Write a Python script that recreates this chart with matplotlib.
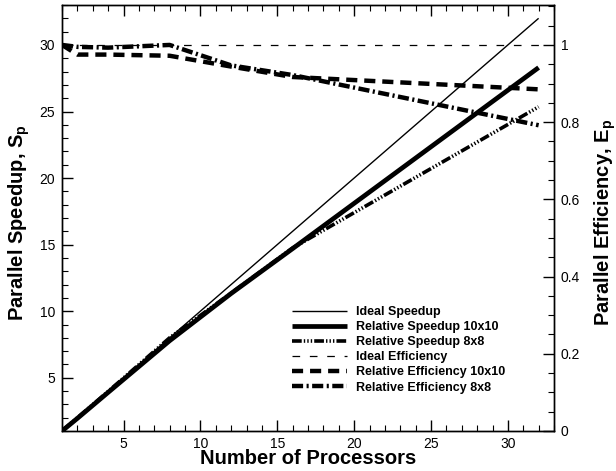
import matplotlib
matplotlib.use("Agg")
import matplotlib.pyplot as plt
from matplotlib.ticker import MultipleLocator, FixedLocator

plt.rcParams['font.family'] = ['Liberation Sans', 'DejaVu Sans']
plt.rcParams['mathtext.fontset'] = 'custom'
plt.rcParams['mathtext.rm'] = 'Liberation Sans'
plt.rcParams['mathtext.bf'] = 'Liberation Sans:bold'
plt.rcParams['lines.scale_dashes'] = False

# ---- data ----
processors = [1, 2, 4, 8, 12, 16, 32]
ideal_speedup = [1, 2, 4, 8, 12, 16, 32]
speedup_10x10 = [1, 1.95, 3.9, 7.78, 11.33, 14.7, 28.3]
speedup_8x8 = [1, 1.99, 3.97, 8.0, 11.36, 14.75, 25.35]
ideal_eff = [1, 1, 1, 1, 1, 1, 1]
eff_10x10 = [1, 0.975, 0.975, 0.972, 0.944, 0.917, 0.885]
eff_8x8 = [1, 0.995, 0.993, 1.0, 0.947, 0.922, 0.792]

labels = ["Ideal Speedup", "Relative Speedup 10x10", "Relative Speedup 8x8",
          "Ideal Efficiency", "Relative Efficiency 10x10", "Relative Efficiency 8x8"]

fig = plt.figure(figsize=(6.16, 4.71), dpi=100)
ax = fig.add_axes([62/616, 1 - 431/471, (554-62)/616, (431-5)/471])
ax2 = ax.twinx()

S_MIN, S_MAX = 1, 33
ax.set_xlim(1, 33)
ax.set_ylim(S_MIN, S_MAX)
ax2.set_ylim(0, (S_MAX - 1) / 29)

h1, = ax.plot(processors, ideal_speedup, color='black', lw=1.0, solid_capstyle='butt')
h2, = ax.plot(processors, speedup_10x10, color='black', lw=3.4, solid_capstyle='butt')
h3, = ax.plot(processors, speedup_8x8, color='black', lw=2.6,
              dashes=(7, 1.5, 1, 1.5, 1, 1.5, 1, 1.5), dash_capstyle='butt')
h4, = ax2.plot(processors, ideal_eff, color='black', lw=0.9, dashes=(5.5, 7))
h5, = ax2.plot(processors, eff_10x10, color='black', lw=3.2, dashes=(8, 5), dash_capstyle='butt')
h6, = ax2.plot(processors, eff_8x8, color='black', lw=3.2,
               dashes=(8, 2.5, 1.5, 2.5), dash_capstyle='butt')

ax.xaxis.set_major_locator(FixedLocator([5, 10, 15, 20, 25, 30]))
ax.xaxis.set_minor_locator(MultipleLocator(1))
ax.yaxis.set_major_locator(FixedLocator([5, 10, 15, 20, 25, 30]))
ax.yaxis.set_minor_locator(MultipleLocator(1))
ax2.yaxis.set_major_locator(FixedLocator([0, 0.2, 0.4, 0.6, 0.8, 1.0]))
ax2.yaxis.set_minor_locator(MultipleLocator(0.05))
ax2.set_yticklabels(["0", "0.2", "0.4", "0.6", "0.8", "1"])

ax.tick_params(axis='x', which='both', direction='in', top=True, bottom=True, labelsize=10, pad=4)
ax.tick_params(axis='y', which='both', direction='in', left=True, right=False, labelsize=10, pad=5)
ax.tick_params(which='major', length=8, width=1)
ax.tick_params(which='minor', length=4.5, width=0.8)
ax2.tick_params(axis='y', which='both', direction='in', right=True, labelsize=10, pad=5)
ax2.tick_params(which='major', length=8, width=1)
ax2.tick_params(which='minor', length=4.5, width=0.8)

for a in (ax, ax2):
    for s in a.spines.values():
        s.set_linewidth(1.0)

ax.set_xlabel("Number of Processors", fontsize=14.5, fontweight='bold')
ax.xaxis.set_label_coords(0.5, -0.043)
ax.set_ylabel(r"Parallel Speedup, S$_\mathbf{p}$", fontsize=14.5, fontweight='bold')
ax.yaxis.set_label_coords((32 - 62) / 492, 0.49)
ax2.set_ylabel(r"Parallel Efficiency, E$_\mathbf{p}$", fontsize=14.5, fontweight='bold')
ax2.yaxis.set_label_coords((592 - 62) / 492, 0.49)

leg = ax.legend([h1, h2, h3, h4, h5, h6], labels, frameon=False,
                loc='upper left', bbox_to_anchor=((292 - 62) / 492, (431 - 306) / 426),
                prop={'weight': 'bold', 'size': 9}, handlelength=4.4,
                handletextpad=0.7, labelspacing=0.25, borderaxespad=0, borderpad=0)

fig.savefig("out.png", dpi=100)
